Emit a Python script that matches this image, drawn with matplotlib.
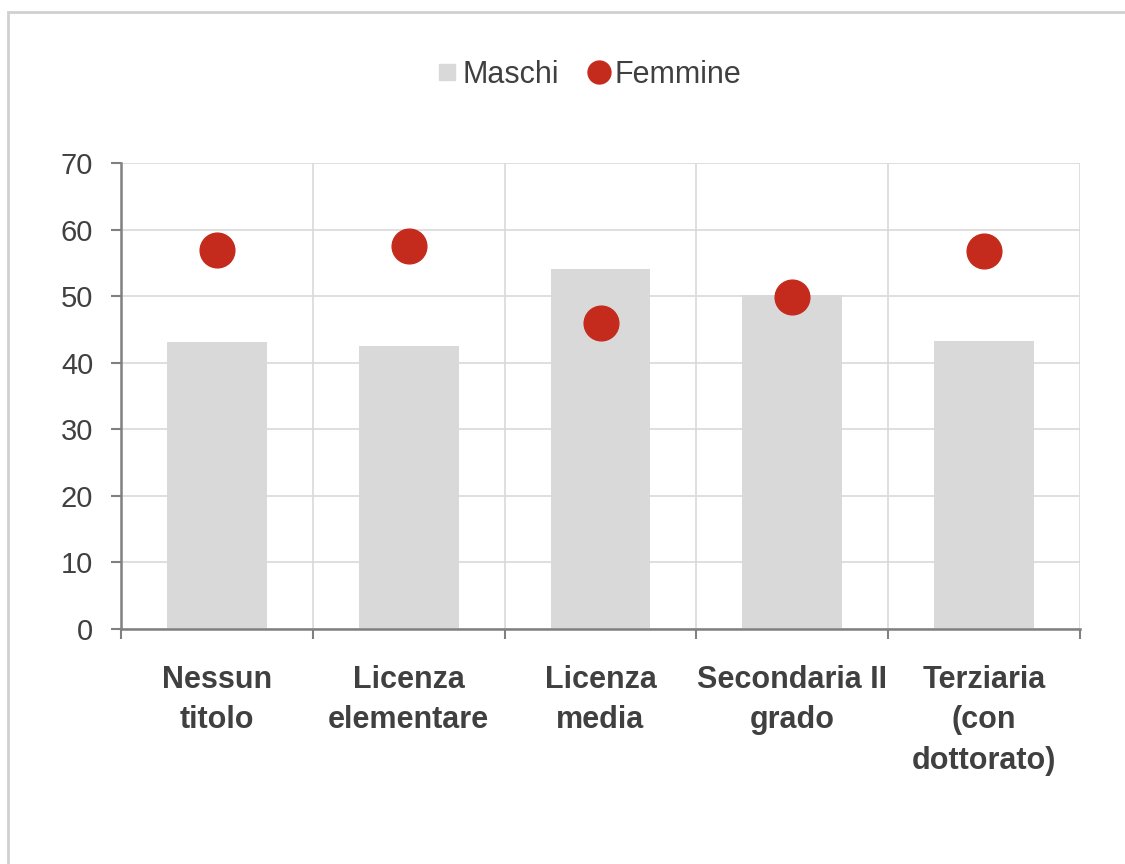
import matplotlib
matplotlib.use("Agg")
import matplotlib.pyplot as plt
from matplotlib.lines import Line2D
from matplotlib.patches import Rectangle

categories = ["Nessun\ntitolo", "Licenza\nelementare", "Licenza\nmedia",
              "Secondaria II\ngrado", "Terziaria\n(con\ndottorato)"]
maschi = [43.1, 42.5, 54.1, 50.1, 43.2]
femmine = [56.9, 57.5, 45.9, 49.9, 56.8]
yticks = [0, 10, 20, 30, 40, 50, 60, 70]

plt.rcParams['font.family'] = ["Liberation Sans", 'DejaVu Sans']

txt = "#404040"
red = "#c42b1c"
grey = "#d9d9d9"
fig = plt.figure(figsize=(11.25, 8.64), dpi=100)
fig.patches.append(Rectangle((8/1125, -0.1), 1.2, (864-12)/864 + 0.1, transform=fig.transFigure,
                             fill=False, edgecolor="#d0d0d0", linewidth=2))
ax = fig.add_axes([121/1125, (864-629)/864, (1080-121)/1125, (629-163)/864])

x = list(range(len(categories)))
ax.bar(x, maschi, width=0.52, color=grey, zorder=2, label="Maschi")
ax.plot(x, femmine, linestyle="none", marker="o", markersize=25, color=red,
        markeredgecolor=red, zorder=3, label="Femmine")

ax.set_xlim(-0.5, len(categories) - 0.5)
ax.set_ylim(0, 70)
ax.set_yticks(yticks)
ax.set_yticklabels([str(v) for v in yticks], fontsize=21, color=txt)
ax.set_xticks([i + 0.5 for i in range(-1, len(categories))])
ax.set_xticklabels([])
ax.set_xticks(x, minor=True)
ax.set_xticklabels(categories, minor=True, fontsize=22, fontweight="bold", color=txt,
                   linespacing=1.45, va="top")
ax.tick_params(axis="x", which="minor", length=0, pad=26)
ax.tick_params(axis="x", which="major", length=7, width=1.5, color="#808080", direction="out")
ax.tick_params(axis="y", length=7, width=1.5, color="#808080", direction="out", pad=13)

ax.grid(True, which="major", color=grey, linewidth=1.2, zorder=0)
ax.set_axisbelow(True)
for s in ["top", "right"]:
    ax.spines[s].set_visible(False)
for s in ["left", "bottom"]:
    ax.spines[s].set_color("#808080")
    ax.spines[s].set_linewidth(1.8)

handles = [Line2D([], [], marker="s", linestyle="none", markersize=12, color=grey),
           Line2D([], [], marker="o", linestyle="none", markersize=16.5, color=red)]
fig.legend(handles, ["Maschi", "Femmine"], loc="center", bbox_to_anchor=(588/1125, (864-75)/864),
           ncol=2, frameon=False, fontsize=22, handletextpad=0.1, columnspacing=0.9,
           handlelength=0.8, labelcolor=txt)

fig.savefig("out.png", dpi=100, facecolor="white")
